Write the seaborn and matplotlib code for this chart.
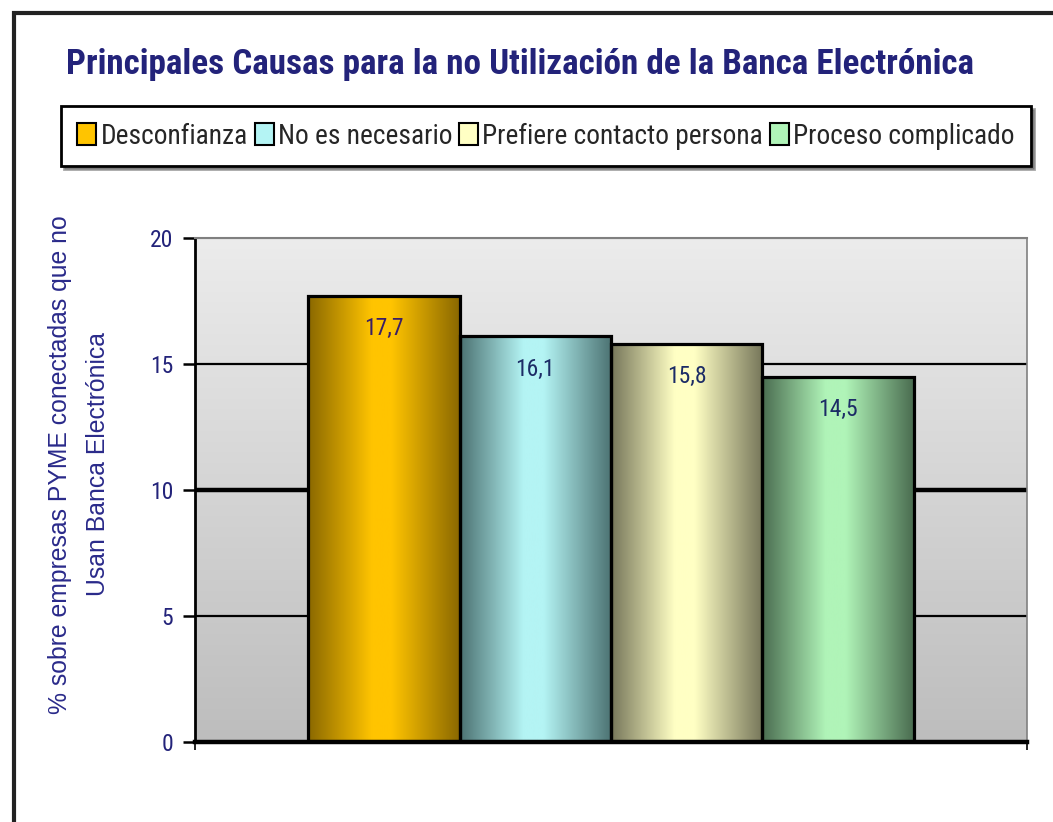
import numpy as np
import pandas as pd
import matplotlib
matplotlib.use("Agg")
import matplotlib.pyplot as plt
from matplotlib import font_manager
from matplotlib.colors import LinearSegmentedColormap
from matplotlib.patches import Patch, Rectangle
import seaborn as sns

# ── data ──────────────────────────────────────────────────────────────────
causas      = ["Desconfianza", "No es necesario", "Prefiere contacto persona", "Proceso complicado"]
porcentajes = [17.7, 16.1, 15.8, 14.5]
y_ticks     = [0, 5, 10, 15, 20]

titulo  = "Principales Causas para la no Utilización de la Banca Electrónica"
y_label = "% sobre empresas PYME conectadas que no\nUsan Banca Electrónica"

# colours: (light centre, dark edge) for the cylinder shading
claros  = ["#ffc400", "#b4f4f4", "#ffffc4", "#b0f4b8"]
oscuros = ["#8a6800", "#4c7272", "#76765a", "#4a6c50"]
etiq_col = ["#3a1f66", "#1c2c66", "#1c2c66", "#1c2c66"]
NAVY = "#23237a"


def pick_font():
    # prefer any narrow / condensed sans that happens to be installed
    names = sorted({f.name for f in font_manager.fontManager.ttflist})
    for key in ("Liberation Sans Narrow", "Arial Narrow", "Roboto Condensed",
                "Open Sans Condensed", "DejaVu Sans Condensed"):
        if key in names:
            return key
    for n in names:
        if ("Narrow" in n or "Condensed" in n) and "Mono" not in n and "Serif" not in n:
            return n
    return "Liberation Sans"


sns.set_theme(style="white")
FONT = pick_font()
plt.rcParams["font.family"] = [FONT, "DejaVu Sans"]

fig = plt.figure(figsize=(10.53, 8.22), dpi=100)
ax = fig.add_axes([195 / 1053, 1 - 742 / 822, (1027 - 195) / 1053, (742 - 238) / 822])
renderer = fig.canvas.get_renderer()


def fit_text(txt, target_px, along="width"):
    bb = txt.get_window_extent(renderer=renderer)
    cur = bb.width if along == "width" else bb.height
    txt.set_fontsize(txt.get_fontsize() * target_px / cur)


df = pd.DataFrame({"grupo": [""] * len(causas), "causa": causas, "pct": porcentajes})
sns.barplot(data=df, x="grupo", y="pct", hue="causa", hue_order=causas,
            palette=claros, width=0.728, edgecolor="black", linewidth=2.3,
            legend=False, ax=ax, zorder=2)

ax.set_xlim(-0.5, 0.5)
ax.set_ylim(0, 20)

# plot-area background gradient (light top, grey bottom)
bg = LinearSegmentedColormap.from_list("bg", ["#bdbdbd", "#ececec"])
ax.imshow(np.linspace(0, 1, 256).reshape(-1, 1), cmap=bg, origin="lower",
          extent=[-0.5, 0.5, 0, 20], aspect="auto", zorder=0.1)

# cylinder shading on each bar + value labels
for patch, c_l, c_d, c_t in zip(ax.patches, claros, oscuros, etiq_col):
    x0, w, h = patch.get_x(), patch.get_width(), patch.get_height()
    cm = LinearSegmentedColormap.from_list(
        "bar", [(0, c_d), (0.42, c_l), (0.55, c_l), (1, c_d)])
    im = ax.imshow(np.linspace(0, 1, 256).reshape(1, -1), cmap=cm,
                   extent=[x0, x0 + w, 0, h], aspect="auto", zorder=1.5)
    im.set_clip_path(patch)
    patch.set_facecolor("none")
    ax.text(x0 + w / 2, h - 1.3, f"{h:.1f}".replace(".", ","),
            ha="center", va="center", fontsize=17, color=c_t, zorder=3)

ax.set_xlim(-0.5, 0.5)
ax.set_ylim(0, 20)

# gridlines
ax.set_yticks(y_ticks)
ax.yaxis.grid(True, color="black", linewidth=1.6)
ax.set_axisbelow(True)
for val, gl in zip(y_ticks, ax.get_ygridlines()):
    if val == 10:
        gl.set_linewidth(3.2)
    elif val == 20:
        gl.set_color("#808080")
        gl.set_linewidth(1.5)

ax.set_xticks([-0.5, 0.5])
ax.set_xticklabels(["", ""])
ax.set_xlabel("")
ax.set_ylabel("")
ax.tick_params(axis="x", direction="out", length=6, width=1.2, color="black", bottom=True)
ax.tick_params(axis="y", direction="out", length=8.6, width=1.8, color="black",
               left=True, labelsize=17, labelcolor=NAVY, pad=7)

for side, sp in ax.spines.items():
    sp.set_visible(True)
ax.spines["left"].set_color("black")
ax.spines["left"].set_linewidth(2)
ax.spines["bottom"].set_color("black")
ax.spines["bottom"].set_linewidth(3.2)
ax.spines["top"].set_color("#808080")
ax.spines["top"].set_linewidth(1.5)
ax.spines["right"].set_color("#808080")
ax.spines["right"].set_linewidth(1.2)

ylab = fig.text(0.075, 0.435, y_label, rotation=90, ha="center", va="center",
                multialignment="center", fontsize=15, color="#2a2a8a",
                linespacing=1.7, family=["Liberation Sans", "DejaVu Sans"])
fit_text(ylab, 500, along="height")

title = fig.text(0.494, 0.922, titulo, ha="center", va="center", fontsize=25,
                 fontweight="bold", color=NAVY)
fit_text(title, 910)

handles = [Patch(facecolor=c, edgecolor="black", linewidth=1.5) for c in claros]


def make_legend(fs):
    lg = fig.legend(handles, causas, loc="center", bbox_to_anchor=(546 / 1053, 1 - 136 / 822),
                    ncol=4, frameon=True, fancybox=False, shadow=True,
                    fontsize=fs, handlelength=0.7, handleheight=0.9,
                    handletextpad=0.15, columnspacing=0.25, borderpad=0.6,
                    borderaxespad=0)
    lg.get_frame().set_edgecolor("black")
    lg.get_frame().set_linewidth(2)
    return lg


leg = make_legend(19)
w_leg = leg.get_window_extent(renderer=renderer).width
leg.remove()
leg = make_legend(19 * 969 / w_leg)

# outer chart border (right and bottom edges fall outside the image)
fig.add_artist(Rectangle((14 / 1053, -0.1), 1.2, 1.1 - 13 / 822,
                         transform=fig.transFigure, fill=False,
                         edgecolor="#222222", linewidth=3))

fig.savefig("out.png", dpi=100, facecolor="white")
